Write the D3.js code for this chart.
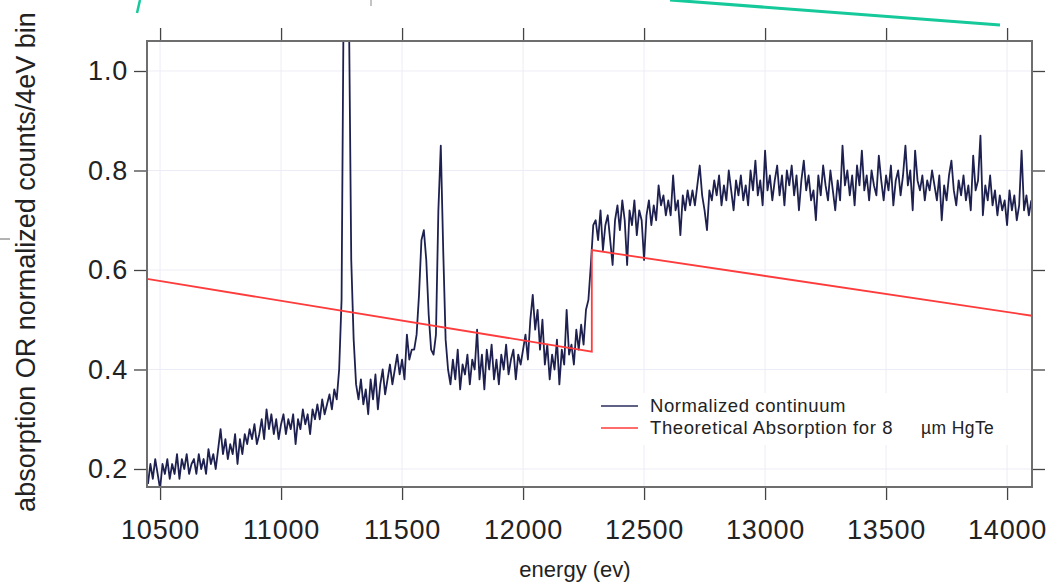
<!DOCTYPE html>
<html>
<head>
<meta charset="utf-8">
<script src="https://cdn.jsdelivr.net/npm/d3@7"></script>
<style>
  body { margin: 0; background: #fff; }
  svg { display: block; font-family: "Liberation Sans", Arial, Helvetica, sans-serif; }
</style>
</head>
<body>
<div id="chart"></div>
<script>
// spectrum: 10 eV bins starting at 10450 eV
const binStart = 10450;
const binWidth = 10;
const continuum = [
  0.17, 0.21, 0.18, 0.22, 0.19, 0.16, 0.21, 0.19, 0.22, 0.18, // 10450
  0.21, 0.19, 0.23, 0.18, 0.22, 0.20, 0.23, 0.19, 0.21, 0.22, // 10550
  0.19, 0.23, 0.20, 0.22, 0.19, 0.24, 0.21, 0.23, 0.20, 0.24, // 10650
  0.28, 0.23, 0.26, 0.22, 0.25, 0.23, 0.27, 0.21, 0.26, 0.23, // 10750
  0.27, 0.25, 0.28, 0.26, 0.29, 0.25, 0.27, 0.30, 0.26, 0.32, // 10850
  0.28, 0.31, 0.27, 0.30, 0.26, 0.29, 0.31, 0.27, 0.30, 0.28, // 10950
  0.31, 0.25, 0.30, 0.28, 0.32, 0.29, 0.31, 0.27, 0.32, 0.30, // 11050
  0.33, 0.30, 0.34, 0.31, 0.33, 0.35, 0.32, 0.36, 0.34, 0.40, // 11150
  0.54, 1.25, 1.50, 1.15, 0.62, 0.46, 0.37, 0.34, 0.38, 0.33, // 11250
  0.36, 0.31, 0.38, 0.34, 0.39, 0.32, 0.37, 0.40, 0.35, 0.38, // 11350
  0.41, 0.37, 0.40, 0.43, 0.39, 0.42, 0.38, 0.47, 0.42, 0.44, // 11450
  0.44, 0.47, 0.55, 0.66, 0.68, 0.62, 0.51, 0.44, 0.43, 0.47, // 11550
  0.72, 0.85, 0.64, 0.46, 0.40, 0.37, 0.42, 0.38, 0.44, 0.36, // 11650
  0.41, 0.39, 0.43, 0.37, 0.42, 0.40, 0.48, 0.38, 0.43, 0.36, // 11750
  0.44, 0.40, 0.45, 0.38, 0.42, 0.37, 0.43, 0.40, 0.45, 0.39, // 11850
  0.42, 0.44, 0.38, 0.43, 0.41, 0.44, 0.47, 0.42, 0.50, 0.55, // 11950
  0.48, 0.52, 0.44, 0.50, 0.41, 0.45, 0.38, 0.43, 0.40, 0.46, // 12050
  0.37, 0.44, 0.41, 0.52, 0.43, 0.45, 0.41, 0.48, 0.44, 0.49, // 12150
  0.45, 0.52, 0.54, 0.61, 0.69, 0.70, 0.66, 0.72, 0.64, 0.69, // 12250
  0.71, 0.66, 0.61, 0.70, 0.73, 0.68, 0.74, 0.70, 0.61, 0.72, // 12350
  0.69, 0.74, 0.67, 0.72, 0.70, 0.62, 0.71, 0.74, 0.69, 0.73, // 12450
  0.70, 0.77, 0.73, 0.75, 0.71, 0.74, 0.71, 0.79, 0.72, 0.74, // 12550
  0.67, 0.75, 0.72, 0.76, 0.73, 0.76, 0.73, 0.77, 0.81, 0.75, // 12650
  0.72, 0.68, 0.76, 0.74, 0.78, 0.75, 0.79, 0.73, 0.77, 0.74, // 12750
  0.80, 0.76, 0.72, 0.78, 0.75, 0.79, 0.74, 0.77, 0.73, 0.80, // 12850
  0.76, 0.82, 0.75, 0.78, 0.73, 0.84, 0.76, 0.79, 0.74, 0.78, // 12950
  0.81, 0.75, 0.79, 0.73, 0.80, 0.77, 0.81, 0.75, 0.79, 0.72, // 13050
  0.78, 0.82, 0.76, 0.79, 0.74, 0.76, 0.70, 0.79, 0.75, 0.81, // 13150
  0.77, 0.74, 0.80, 0.76, 0.72, 0.78, 0.74, 0.85, 0.77, 0.80, // 13250
  0.75, 0.79, 0.73, 0.81, 0.77, 0.84, 0.76, 0.79, 0.74, 0.80, // 13350
  0.77, 0.75, 0.83, 0.78, 0.74, 0.79, 0.76, 0.81, 0.73, 0.78, // 13450
  0.80, 0.75, 0.79, 0.85, 0.77, 0.80, 0.72, 0.84, 0.78, 0.76, // 13550
  0.79, 0.74, 0.78, 0.76, 0.80, 0.77, 0.74, 0.79, 0.70, 0.77, // 13650
  0.74, 0.79, 0.82, 0.76, 0.73, 0.78, 0.75, 0.79, 0.74, 0.77, // 13750
  0.72, 0.83, 0.76, 0.78, 0.87, 0.71, 0.77, 0.74, 0.79, 0.73, // 13850
  0.76, 0.71, 0.75, 0.72, 0.74, 0.69, 0.76, 0.72, 0.75, 0.70, // 13950
  0.73, 0.84, 0.72, 0.75, 0.71, 0.74                          // 14050
];

// theoretical absorption (edge at ~12284 eV)
const theoryEnergy = [10446, 12284, 12284, 14103];
const theoryAbs = [0.582, 0.436, 0.640, 0.508];

const xTicks = [10500, 11000, 11500, 12000, 12500, 13000, 13500, 14000];
const yTicks = [0.2, 0.4, 0.6, 0.8, 1.0];

const width = 1060;
const height = 583;
const margin = { top: 41, right: 28, bottom: 96, left: 147 };

const svg = d3.select("#chart")
  .append("svg")
  .attr("width", width)
  .attr("height", height);

const x = d3.scaleLinear()
  .domain([10446, 14103])
  .range([margin.left, width - margin.right]);

const y = d3.scaleLinear()
  .domain([0.1638, 1.0603])
  .range([height - margin.bottom, margin.top]);

// faint grid
svg.append("g")
  .selectAll("line")
  .data(xTicks)
  .enter()
  .append("line")
  .attr("x1", d => x(d)).attr("x2", d => x(d))
  .attr("y1", margin.top).attr("y2", height - margin.bottom)
  .attr("stroke", "#ececf6")
  .attr("stroke-width", 1);

svg.append("g")
  .selectAll("line")
  .data(yTicks)
  .enter()
  .append("line")
  .attr("x1", margin.left).attr("x2", width - margin.right)
  .attr("y1", d => y(d)).attr("y2", d => y(d))
  .attr("stroke", "#ececf6")
  .attr("stroke-width", 1);

svg.append("clipPath")
  .attr("id", "plot-clip")
  .append("rect")
  .attr("x", margin.left)
  .attr("y", margin.top)
  .attr("width", width - margin.left - margin.right)
  .attr("height", height - margin.top - margin.bottom);

const spectrum = continuum.map((v, i) => ({ e: binStart + i * binWidth, v: v }));

const line = d3.line()
  .x(d => x(d.e))
  .y(d => y(d.v));

svg.append("path")
  .datum(spectrum)
  .attr("clip-path", "url(#plot-clip)")
  .attr("d", line)
  .attr("fill", "none")
  .attr("stroke", "#1e2150")
  .attr("stroke-width", 1.8)
  .attr("stroke-linejoin", "round");

const theory = theoryEnergy.map((e, i) => ({ e: e, v: theoryAbs[i] }));

svg.append("path")
  .datum(theory)
  .attr("clip-path", "url(#plot-clip)")
  .attr("d", d3.line().x(d => x(d.e)).y(d => y(d.v)))
  .attr("fill", "none")
  .attr("stroke", "#ff3b3b")
  .attr("stroke-width", 1.8);

// axes on all four sides, ticks outside
const tickLen = 13;
const axisStyle = g => {
  g.select(".domain").remove();
  g.selectAll(".tick line").attr("stroke", "#444").attr("stroke-width", 1.3);
  g.selectAll(".tick text")
    .attr("fill", "#222")
    .style("font-size", "27px")
    .style("letter-spacing", "0.8px");
};

svg.append("g")
  .attr("transform", `translate(0,${height - margin.bottom})`)
  .call(d3.axisBottom(x).tickValues(xTicks).tickSize(tickLen).tickPadding(20).tickFormat(d3.format("d")))
  .call(axisStyle);

svg.append("g")
  .attr("transform", `translate(0,${margin.top})`)
  .call(d3.axisTop(x).tickValues(xTicks).tickSize(tickLen).tickFormat(""))
  .call(axisStyle);

svg.append("g")
  .attr("transform", `translate(${margin.left},0)`)
  .call(d3.axisLeft(y).tickValues(yTicks).tickSize(tickLen).tickPadding(6).tickFormat(d3.format(".1f")))
  .call(axisStyle);

svg.append("g")
  .attr("transform", `translate(${width - margin.right},0)`)
  .call(d3.axisRight(y).tickValues(yTicks).tickSize(tickLen).tickFormat(""))
  .call(axisStyle);

// frame
svg.append("rect")
  .attr("x", margin.left)
  .attr("y", margin.top)
  .attr("width", width - margin.left - margin.right)
  .attr("height", height - margin.top - margin.bottom)
  .attr("fill", "none")
  .attr("stroke", "#6e6e6e")
  .attr("stroke-width", 2);

// axis titles
svg.append("text")
  .attr("x", 575)
  .attr("y", 577)
  .attr("text-anchor", "middle")
  .attr("fill", "#222")
  .style("font-size", "22px")
  .text("energy (ev)");

svg.append("text")
  .attr("transform", "translate(35,262) rotate(-90)")
  .attr("text-anchor", "middle")
  .attr("fill", "#222")
  .style("font-size", "27px")
  .text("absorption OR normalized counts/4eV bin");

// legend
const legendItems = [
  { label: "Normalized continuum", color: "#2a2d5c" },
  { label: "Theoretical Absorption for 8", extra: "µm HgTe", color: "#ff3b3b" }
];

svg.append("rect")
  .attr("x", 592).attr("y", 393)
  .attr("width", 420).attr("height", 52)
  .attr("fill", "#fff");

const legend = svg.selectAll(".legend")
  .data(legendItems)
  .enter()
  .append("g")
  .attr("class", "legend")
  .attr("transform", (d, i) => `translate(601, ${406 + i * 22})`);

legend.append("line")
  .attr("x1", 0).attr("x2", 37)
  .attr("stroke", d => d.color)
  .attr("stroke-width", 1.6);

legend.append("text")
  .attr("x", 49)
  .attr("y", 6)
  .attr("fill", "#222")
  .style("font-size", "18.5px")
  .style("letter-spacing", "0.6px")
  .text(d => d.label);

legend.filter(d => d.extra)
  .append("text")
  .attr("x", 320)
  .attr("y", 6)
  .attr("fill", "#222")
  .style("font-size", "17.5px")
  .style("letter-spacing", "0.4px")
  .text(d => d.extra);

// stray marks at the picture's edges
svg.append("line")
  .attr("x1", 670).attr("y1", 0).attr("x2", 1000).attr("y2", 25)
  .attr("stroke", "#16c99a").attr("stroke-width", 3);
svg.append("line")
  .attr("x1", 137).attr("y1", 13).attr("x2", 140).attr("y2", 0)
  .attr("stroke", "#16c99a").attr("stroke-width", 2.5);
svg.append("line")
  .attr("x1", 371).attr("y1", 0).attr("x2", 371).attr("y2", 6)
  .attr("stroke", "#888").attr("stroke-width", 1);
svg.append("line")
  .attr("x1", 0).attr("y1", 239).attr("x2", 10).attr("y2", 239)
  .attr("stroke", "#666").attr("stroke-width", 1);
</script>
</body>
</html>
